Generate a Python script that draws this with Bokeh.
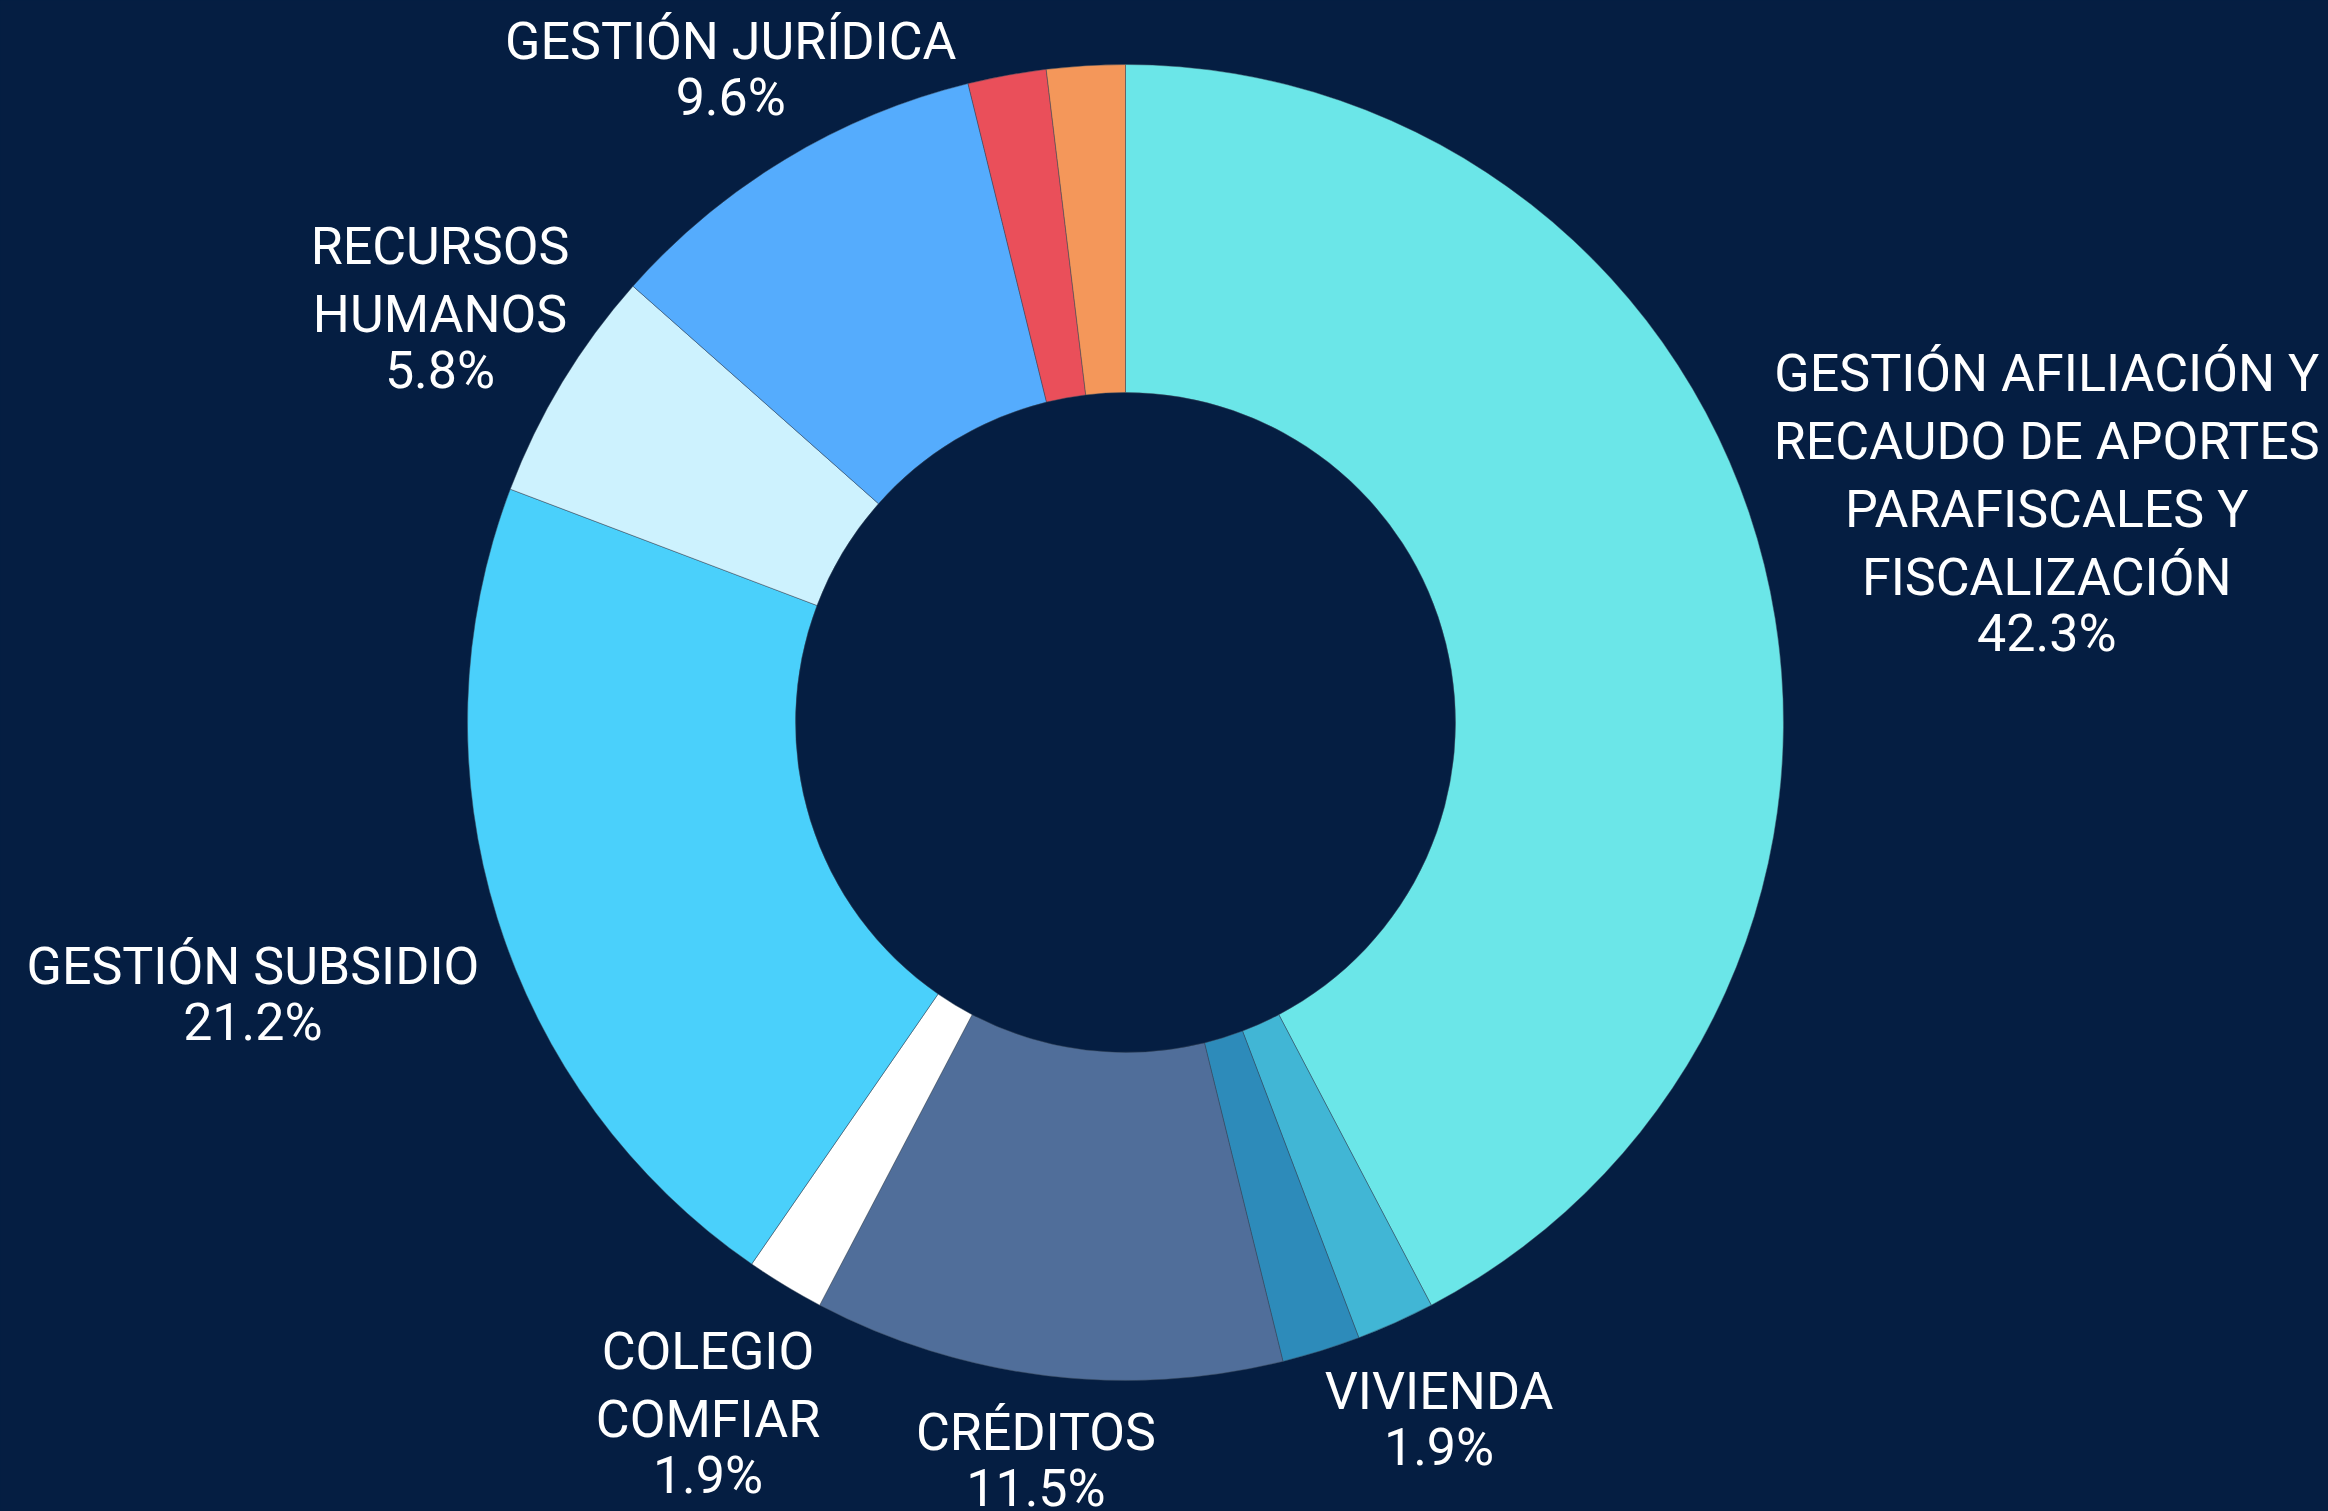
import math
from bokeh.plotting import figure
from bokeh.models import Range1d, ColumnDataSource
from bokeh.embed import file_html
from bokeh.resources import INLINE
from bokeh.core.properties import value

# ---- data (clockwise from 12 o'clock) ----
categories = [
    "GESTIÓN AFILIACIÓN Y RECAUDO DE APORTES PARAFISCALES Y FISCALIZACIÓN",
    "VIVIENDA",
    "SIN ETIQUETA 1",
    "CRÉDITOS",
    "COLEGIO COMFIAR",
    "GESTIÓN SUBSIDIO",
    "RECURSOS HUMANOS",
    "GESTIÓN JURÍDICA",
    "SIN ETIQUETA 2",
    "SIN ETIQUETA 3",
]
counts = [22, 1, 1, 6, 1, 11, 3, 5, 1, 1]
label_lines = [
    ["GESTIÓN AFILIACIÓN Y", "RECAUDO DE APORTES", "PARAFISCALES Y", "FISCALIZACIÓN"],
    ["VIVIENDA"],
    [],
    ["CRÉDITOS"],
    ["COLEGIO", "COMFIAR"],
    ["GESTIÓN SUBSIDIO"],
    ["RECURSOS", "HUMANOS"],
    ["GESTIÓN JURÍDICA"],
    [],
    [],
]
show_label = [True, True, False, True, True, True, True, True, False, False]
colors = ["#6be6e8", "#41b6d5", "#2d8bba", "#506e9a", "#ffffff",
          "#4ad0fb", "#cdf2fe", "#55acfd", "#ea4f5a", "#f4975a"]

# ---- layout ----
BG = "#051e42"
PAGE_W, PAGE_H = 2328, 1511
CX, CY = 1125, PAGE_H - 722
R_OUT, R_IN = 658, 330
# distance from the centre to each label block's centre, and small angular nudge
label_r = [947, 764, 0, 743, 807, 914, 801, 763, 0, 0]
label_nudge = [0.45, 0, 0, 0, 0, 0, 0, 0, 0, 0]
NAME_STEP = 68     # spacing between wrapped name lines
PCT_STEP = 56      # spacing between last name line and percentage

total = sum(counts)
starts, ends, mids = [], [], []
acc = 0.0
for c in counts:
    a0 = acc / total * 360.0
    acc += c
    a1 = acc / total * 360.0
    starts.append(90.0 - a0)
    ends.append(90.0 - a1)
    mids.append((a0 + a1) / 2.0)

src = ColumnDataSource(dict(start=starts, end=ends, color=colors, cat=categories))

p = figure(width=PAGE_W, height=PAGE_H, output_backend="svg", toolbar_location=None,
           x_range=Range1d(0, PAGE_W), y_range=Range1d(0, PAGE_H),
           x_axis_type=None, y_axis_type=None, min_border=0)
p.background_fill_color = BG
p.border_fill_color = BG
p.outline_line_color = None
p.grid.visible = False

p.annular_wedge(x=CX, y=CY, inner_radius=R_IN, outer_radius=R_OUT,
                start_angle="start", end_angle="end", start_angle_units="deg",
                end_angle_units="deg", direction="clock", fill_color="color",
                line_color="#3a4a5a", line_width=0.8, line_alpha=0.6, source=src)

lx, ly, lt = [], [], []
for i, c in enumerate(counts):
    if not show_label[i]:
        continue
    th = math.radians(mids[i] + label_nudge[i])
    bx = CX + label_r[i] * math.sin(th)
    by = CY + label_r[i] * math.cos(th)
    lines = label_lines[i] + [f"{c / total * 100:.1f}%"]
    n = len(label_lines[i])
    offs = [k * NAME_STEP for k in range(n)] + [(n - 1) * NAME_STEP + PCT_STEP]
    span = offs[-1]
    for txt, o in zip(lines, offs):
        lx.append(bx)
        ly.append(by + span / 2.0 - o)
        lt.append(txt)

p.text(x=lx, y=ly, text=lt, text_align="center", text_baseline="middle",
       text_font=value("Roboto"), text_font_size="52px", text_color="white")

html = file_html(p, INLINE)
html = html.replace("</head>", f"<style>html, body {{ background-color: {BG}; }}</style></head>", 1)
open("out.html", "w").write(html)
